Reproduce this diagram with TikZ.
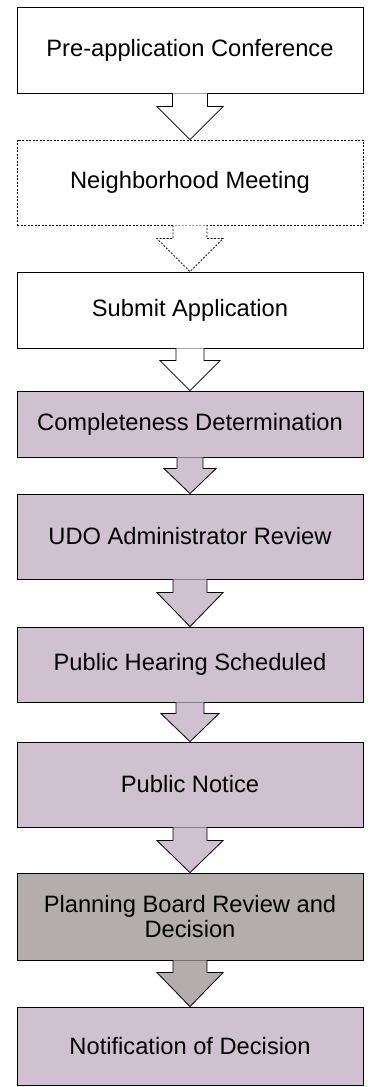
\documentclass[tikz,border=0pt]{standalone}
\usepackage{fontspec}
\setmainfont{Liberation Sans}
\usetikzlibrary{calc}
\definecolor{lilac}{RGB}{207,193,208}
\definecolor{slate}{RGB}{179,174,173}
\newcommand{\blockarrow}[6]{% style, from, to, shaft half, head half, head height
  \filldraw[#1] ($(#2.south)+(-#4,0)$) -- ($(#3.north)+(-#4,#6)$) -- ($(#3.north)+(-#5,#6)$) -- (#3.north)
    -- ($(#3.north)+(#5,#6)$) -- ($(#3.north)+(#4,#6)$) -- ($(#2.south)+(#4,0)$);
}
\begin{document}
\begin{tikzpicture}[x=1pt,y=1pt,
  stepbox/.style={draw=black, line width=0.8pt, rectangle, minimum width=346pt, inner sep=0pt,
    align=center, font=\fontsize{23.7}{25}\selectfont},
  whitebox/.style={stepbox, fill=white},
  lilacbox/.style={stepbox, fill=lilac},
  slatebox/.style={stepbox, fill=slate},
  dotbox/.style={stepbox, fill=white, dash pattern=on 2pt off 1.5pt},
  whitearrow/.style={draw=black, fill=white, line width=0.8pt, line join=miter},
  dotarrow/.style={whitearrow, dash pattern=on 2pt off 1.5pt},
  lilacarrow/.style={whitearrow, fill=lilac},
  slatearrow/.style={whitearrow, fill=slate}]
\useasboundingbox (0,0) rectangle (367,1087);
\node[whitebox, minimum height=86pt] (b1) at (190,1037) {Pre-application Conference};
\node[dotbox, minimum height=85pt] (b2) at (190,904.5) {Neighborhood Meeting};
\node[whitebox, minimum height=76pt] (b3) at (190,777) {Submit Application};
\node[lilacbox, minimum height=66pt] (b4) at (190,663) {Completeness Determination};
\node[lilacbox, minimum height=85pt] (b5) at (190,550.5) {UDO Administrator Review};
\node[lilacbox, minimum height=75pt] (b6) at (190,422.5) {Public Hearing Scheduled};
\node[lilacbox, minimum height=85pt] (b7) at (190,302.5) {Public Notice};
\node[slatebox, minimum height=87pt] (b8) at (190,170.5) {Planning Board Review and\\Decision};
\node[lilacbox, minimum height=78.5pt] (b9) at (190,40.75) {Notification of Decision};
\blockarrow{whitearrow}{b1}{b2}{17.5}{33}{33}
\blockarrow{dotarrow}{b2}{b3}{17}{33}{33}
\blockarrow{whitearrow}{b3}{b4}{14}{30}{30}
\blockarrow{lilacarrow}{b4}{b5}{13}{26}{25}
\blockarrow{lilacarrow}{b5}{b6}{17}{33}{34}
\blockarrow{lilacarrow}{b6}{b7}{14}{29}{28}
\blockarrow{lilacarrow}{b7}{b8}{17}{33}{32}
\blockarrow{slatearrow}{b8}{b9}{17}{33}{34}
\end{tikzpicture}
\end{document}
